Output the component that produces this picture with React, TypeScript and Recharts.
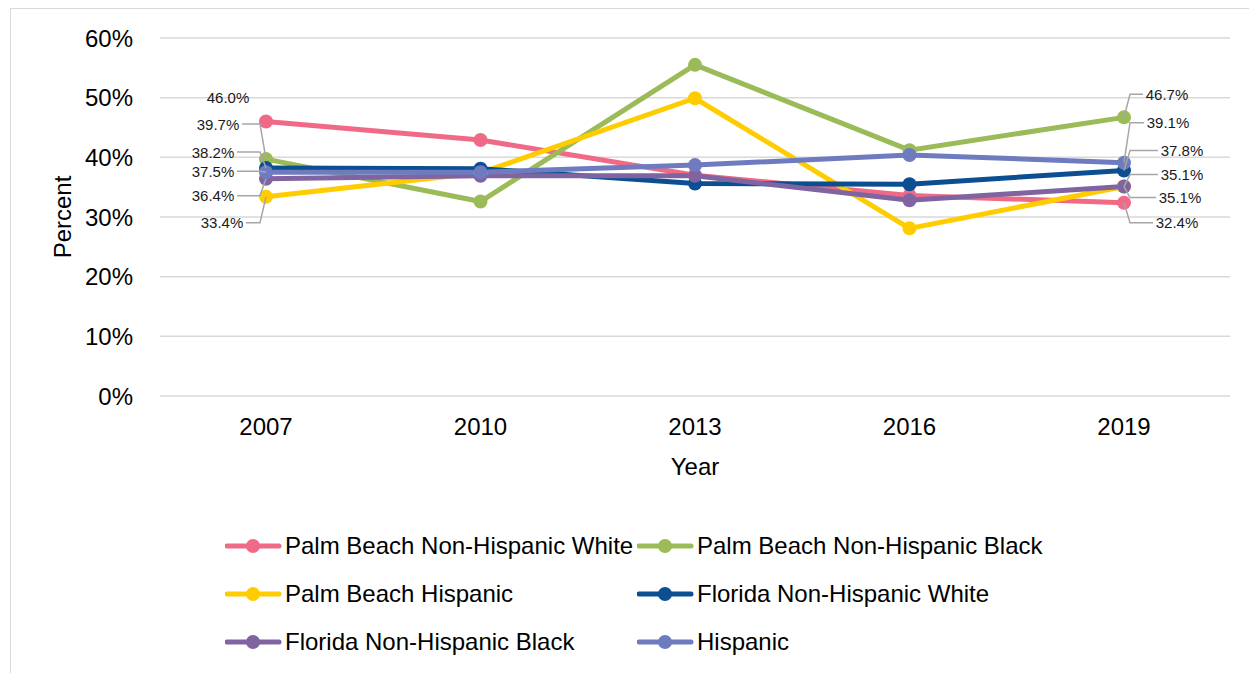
import React from 'react';
import { LineChart, Line, XAxis, YAxis, CartesianGrid, Legend, LabelList } from 'recharts';

const years = ['2007', '2010', '2013', '2016', '2019'];
const pbNHWhite = [46.0, 42.9, 37.0, 33.6, 32.4];
const pbNHBlack = [39.7, 32.6, 55.5, 41.2, 46.7];
const pbHispanic = [33.4, 37.4, 49.9, 28.1, 35.1];
const flNHWhite = [38.2, 38.1, 35.6, 35.5, 37.8];
const flNHBlack = [36.4, 36.9, 36.9, 32.8, 35.1];
const hispanic = [37.5, 37.5, 38.7, 40.4, 39.1];
const yTicks = [0, 10, 20, 30, 40, 50, 60];

const seriesNames = [
  'Palm Beach Non-Hispanic White',
  'Palm Beach Non-Hispanic Black',
  'Palm Beach Hispanic',
  'Florida Non-Hispanic White',
  'Florida Non-Hispanic Black',
  'Hispanic',
];
const seriesValues = [pbNHWhite, pbNHBlack, pbHispanic, flNHWhite, flNHBlack, hispanic];
const seriesKeys = ['s0', 's1', 's2', 's3', 's4', 's5'];
const colors = ['#F06A88', '#9BBB59', '#FFCC00', '#0B4E92', '#8064A2', '#6E7BBF'];

const data = years.map((y, i) => {
  const row: any = { year: y };
  seriesKeys.forEach((k, s) => (row[k] = seriesValues[s][i]));
  return row;
});

// label offsets (style only): [series][index] -> [dx, dy, leader]
const labelOffsets: Record<string, Record<number, [number, number, boolean]>> = {
  s0: { 0: [-38, -24, false], 4: [53, 20, true] },
  s1: { 0: [-48, -35, true], 4: [43, -23, true] },
  s2: { 0: [-44, 26, true], 4: [56, 11, true] },
  s3: { 0: [-53, -16, true], 4: [58, -20, true] },
  s4: { 0: [-53, 17, true], 4: [58, -12, true] },
  s5: { 0: [-53, -1, true], 4: [44, -40, true] },
};

const FONT = '"Liberation Sans", Arial, sans-serif';

const makeLabel = (key: string) => (props: any) => {
  const { x, y, value, index } = props;
  const off = labelOffsets[key][index];
  if (!off) return null;
  const [dx, dy, leader] = off;
  const lx = x + dx;
  const ly = y + dy;
  const text = `${Number(value).toFixed(1)}%`;
  const halfW = 21;
  let path = '';
  if (leader) {
    if (dx < 0) {
      const edge = lx + halfW + 3;
      const elbow = Math.max(edge + 6, x - 6);
      path = `M${edge},${ly} L${elbow},${ly} L${x},${y}`;
    } else {
      const edge = lx - halfW - 3;
      const elbow = Math.min(edge - 6, x + 6);
      path = `M${edge},${ly} L${elbow},${ly} L${x},${y}`;
    }
  }
  return (
    <g>
      {leader && <path d={path} stroke="#a6a6a6" strokeWidth={1.5} fill="none" />}
      <text x={lx} y={ly} textAnchor="middle" dominantBaseline="central" fontSize={15} fontFamily={FONT} fill="#1a1a1a">
        {text}
      </text>
    </g>
  );
};

const LegendContent = () => (
  <div style={{ display: 'grid', gridTemplateColumns: '412px 412px', fontFamily: FONT, fontSize: 24, color: '#000' }}>
    {seriesNames.map((n, i) => (
      <div key={n} style={{ display: 'flex', alignItems: 'center', height: 48 }}>
        <svg width={60} height={20} style={{ flex: 'none' }}>
          <line x1={2} y1={10} x2={54} y2={10} stroke={colors[i]} strokeWidth={5} strokeLinecap="round" />
          <circle cx={28} cy={10} r={7} fill={colors[i]} />
        </svg>
        <span style={{ whiteSpace: 'nowrap' }}>{n}</span>
      </div>
    ))}
  </div>
);

export default function App() {
  return (
    <div style={{ marginLeft: 2, width: 1245, height: 670, border: '1px solid #d9d9d9', boxSizing: 'border-box', fontFamily: FONT }}>
      <LineChart width={1240} height={660} data={data} margin={{ top: 29, right: 21, left: 0, bottom: 173 }}>
        <CartesianGrid vertical={false} stroke="#d9d9d9" strokeWidth={1.5} />
        <XAxis
          dataKey="year"
          axisLine={false}
          tickLine={false}
          height={100}
          padding={{ left: 106, right: 106 }}
          tick={{ fontSize: 24, fill: '#000', fontFamily: FONT }}
          tickMargin={16}
          label={{ value: 'Year', position: 'insideTop', offset: 62, style: { fontSize: 24, fill: '#000', fontFamily: FONT } }}
        />
        <YAxis
          width={149}
          domain={[0, 60]}
          ticks={yTicks}
          axisLine={false}
          tickLine={false}
          tickMargin={21}
          tickFormatter={(v: number) => `${v}%`}
          tick={{ fontSize: 24, fill: '#000', fontFamily: FONT }}
          label={{ value: 'Percent', angle: -90, position: 'insideLeft', offset: 51, style: { fontSize: 24, fill: '#000', fontFamily: FONT, textAnchor: 'middle' } }}
        />
        <Legend
          layout="horizontal"
          verticalAlign="middle"
          align="center"
          wrapperStyle={{ top: 513, left: 214, width: 830 }}
          content={<LegendContent />}
        />
        {seriesKeys.map((k, i) => (
          <Line
            key={k}
            dataKey={k}
            name={seriesNames[i]}
            stroke={colors[i]}
            strokeWidth={5}
            dot={{ r: 7, fill: colors[i], stroke: colors[i], strokeWidth: 0 }}
            activeDot={false}
            isAnimationActive={false}
          >
            <LabelList dataKey={k} content={makeLabel(k)} />
          </Line>
        ))}
      </LineChart>
    </div>
  );
}
